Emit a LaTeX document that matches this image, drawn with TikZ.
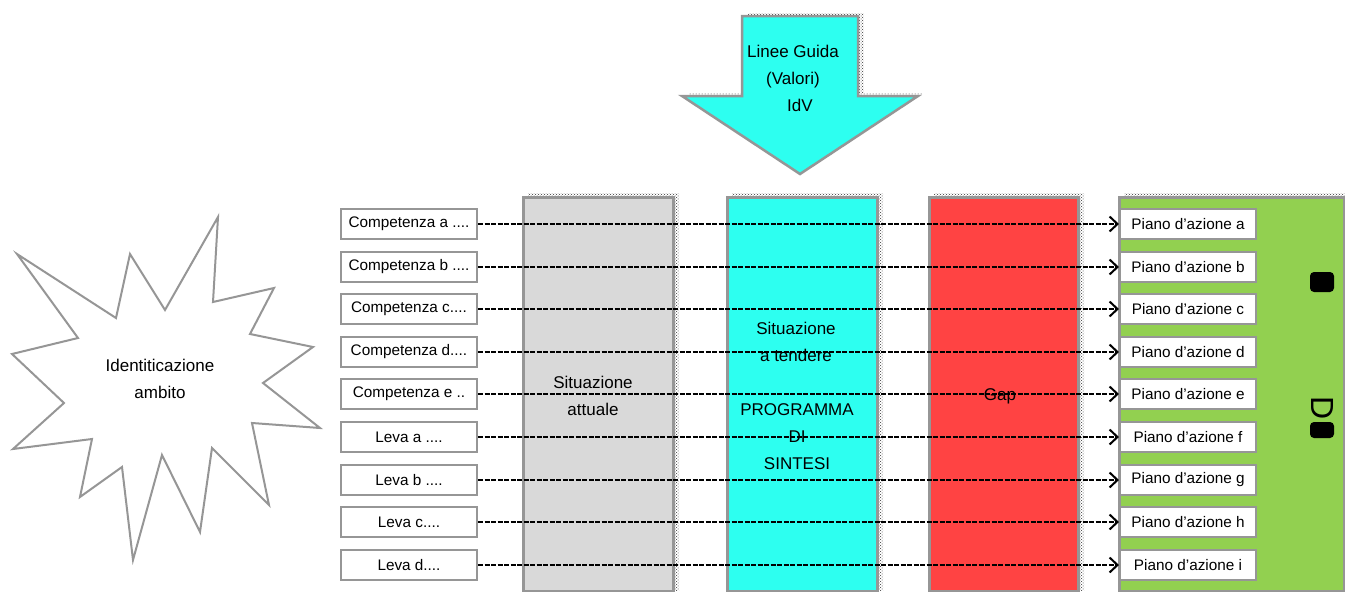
\documentclass[tikz,border=0pt]{standalone}
\usepackage{fontspec}
\setmainfont{Liberation Sans}
\usetikzlibrary{arrows.meta,patterns}
\definecolor{cyanfill}{HTML}{2DFFF0}
\definecolor{grayfill}{HTML}{D9D9D9}
\definecolor{redfill}{HTML}{FF4343}
\definecolor{greenfill}{HTML}{92D050}
\definecolor{edge}{HTML}{969696}
\newcommand\fourdots{....}
\newcommand\twodots{..}
\begin{document}
\begin{tikzpicture}[x=1pt,y=-1pt,
  shadow/.style={pattern=crosshatch dots, pattern color=black!80},
  col/.style={draw=edge, line width=2.5pt, minimum width=150pt, minimum height=394pt, anchor=north west, inner sep=0pt},
  sbox/.style={draw=edge, line width=2pt, fill=white, minimum width=136pt, minimum height=30pt, inner sep=0pt, font=\fontsize{15.3}{16}\selectfont},
  big/.style={align=center, font=\fontsize{17}{27}\selectfont, inner sep=0pt},
  link/.style={dash pattern=on 5pt off 1.5pt, line width=1.7pt, -{Straight Barb[length=8pt,width=15pt,line width=2pt]}}]
\useasboundingbox (0,0) rectangle (1345,592);

% shadows
\path[shadow] (748,13) -- (864,13) -- (864,93) -- (924,93) -- (806,171) -- (688,93) -- (748,93) -- cycle;
\path[shadow] (528,193) rectangle (679,590);
\path[shadow] (732,193) rectangle (883,590);
\path[shadow] (934,193) rectangle (1084,590);
\path[shadow] (1124,193) rectangle (1345,590);

% big arrow
\draw[draw=edge, line width=2.5pt, fill=cyanfill, line join=miter]
  (742,16) -- (858,16) -- (858,96) -- (918,96) -- (800,174) -- (682,96) -- (742,96) -- cycle;
\node[big] (guida) at (793,78) {Linee Guida\\(Valori)\\\hspace*{14pt}IdV};

% columns
\node[col, fill=grayfill] (attuale) at (522,196) {};
\node[col, fill=cyanfill] (tendere) at (726,196) {};
\node[col, fill=redfill, minimum width=149pt] (gap) at (928,196) {};
\node[col, fill=greenfill, minimum width=225pt] (piani) at (1118,196) {};

\node[big] (tattuale) at (593,396) {Situazione\\attuale};
\node[big] (ttendere) at (796,342) {Situazione\\a tendere};
\node[big] (tsintesi) at (797,437) {PROGRAMMA\\DI\\SINTESI};
\node[big] (tgap) at (1000,396) {Gap};

% vertical glyphs in green column
\node[font=\fontsize{32}{32}\selectfont, rotate=-90, inner sep=0pt] (dglyph) at (1322,408) {D};
\node[fill=black, rounded corners=4pt, minimum width=24pt, minimum height=16pt, inner sep=0pt] (blob1) at (1322,430) {};
\node[fill=black, rounded corners=4pt, minimum width=24pt, minimum height=20pt, inner sep=0pt] (blob2) at (1322,282) {};

% starburst
\draw[draw=edge, line width=2pt, fill=white, line join=miter]
  (218,217) -- (213,302) -- (274,288) -- (250,334) -- (313,347) -- (263,383) -- (320,428) -- (252,423) -- (269,505) -- (212,448) -- (200,532) -- (162,455) -- (133,560) -- (122,467) -- (80,497) -- (92,439) -- (13,449) -- (64,403) -- (12,354) -- (78,338) -- (17,254) -- (116,318) -- (130,254) -- (165,310) -- cycle;
\node[big] (ambito) at (160,379) {Identiticazione\\ambito};

% rows
\foreach \i/\y/\l/\r in {1/224/{Competenza a \fourdots}/{Piano d’azione a},
                        2/267/{Competenza b \fourdots}/{Piano d’azione b},
                        3/309/{Competenza c\fourdots}/{Piano d’azione c},
                        4/352/{Competenza d\fourdots}/{Piano d’azione d},
                        5/394/{Competenza e \twodots}/{Piano d’azione e},
                        6/437/{Leva a \fourdots}/{Piano d’azione f},
                        7/480/{Leva b \fourdots}/{Piano d’azione g},
                        8/522/{Leva c\fourdots}/{Piano d’azione h},
                        9/565/{Leva d\fourdots}/{Piano d’azione i}} {
  \node[sbox] (L\i) at (409,\y) {\l};
  \node[sbox] (R\i) at (1188,\y) {\r};
  \draw[link] (L\i.east) -- (R\i.west);
}
\end{tikzpicture}
\end{document}
